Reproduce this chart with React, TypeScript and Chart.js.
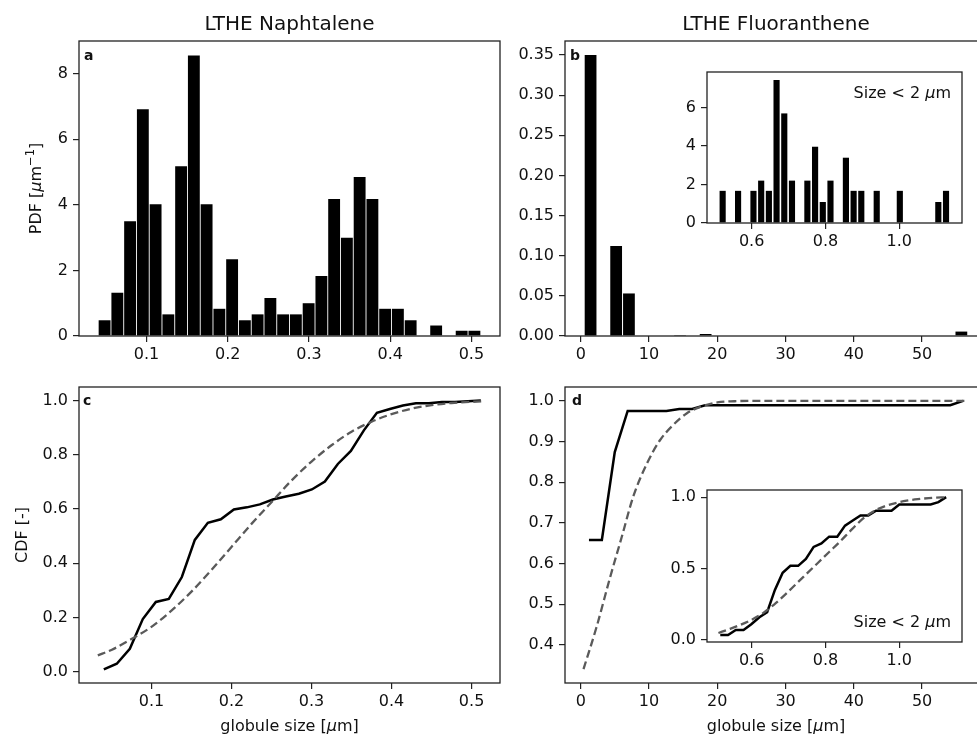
import React, { useEffect, useRef } from 'react';
import { Chart, registerables } from 'chart.js';

Chart.register(...registerables);

// ---------------- DATA ----------------
const TITLES = ['LTHE Naphtalene', 'LTHE Fluoranthene'];

// Panel a : histogram (PDF) naphtalene, bin centres [µm] and densities
const A_BIN_CENTERS = [0.0484, 0.0641, 0.0798, 0.0955, 0.1112, 0.1269, 0.1426, 0.1583, 0.1740, 0.1897, 0.2054, 0.2211, 0.2368, 0.2525, 0.2682, 0.2839, 0.2996, 0.3153, 0.3310, 0.3467, 0.3624, 0.3781, 0.3938, 0.4095, 0.4252, 0.4409, 0.4566, 0.4723, 0.4880, 0.5037];
const A_PDF = [0.48, 1.32, 3.5, 6.92, 4.02, 0.66, 5.18, 8.56, 4.02, 0.83, 2.34, 0.48, 0.66, 1.16, 0.66, 0.66, 1.0, 1.83, 4.18, 3.0, 4.85, 4.18, 0.83, 0.83, 0.48, 0, 0.32, 0, 0.16, 0.16];

// Panel b : histogram (PDF) fluoranthene
const B_BIN_CENTERS = [1.437, 3.310, 5.183, 7.056, 8.929, 10.802, 12.675, 14.548, 16.421, 18.294, 20.167, 22.040, 23.913, 25.786, 27.659, 29.532, 31.405, 33.278, 35.151, 37.024, 38.897, 40.770, 42.643, 44.516, 46.389, 48.262, 50.135, 52.008, 53.881, 55.754];
const B_PDF = [0.35, 0, 0.112, 0.053, 0, 0, 0, 0.0012, 0, 0.0025, 0, 0, 0, 0, 0, 0, 0, 0, 0, 0, 0, 0, 0, 0, 0, 0, 0, 0, 0, 0.0055];

// Panel b inset : size < 2 µm
const BI_BIN_CENTERS = [0.5214, 0.5423, 0.5632, 0.5841, 0.6049, 0.6258, 0.6467, 0.6675, 0.6884, 0.7093, 0.7302, 0.7510, 0.7719, 0.7928, 0.8136, 0.8345, 0.8554, 0.8763, 0.8971, 0.9180, 0.9389, 0.9597, 0.9806, 1.0015, 1.0224, 1.0432, 1.0641, 1.0850, 1.1058, 1.1267];
const BI_PDF = [1.67, 0, 1.67, 0, 1.67, 2.2, 1.67, 7.43, 5.69, 2.2, 0, 2.2, 3.96, 1.09, 2.2, 0, 3.39, 1.67, 1.67, 0, 1.67, 0, 0, 1.67, 0, 0, 0, 0, 1.09, 1.67];

// Panel c : CDF naphtalene (empirical, fitted)
const C_EMP_X = [0.0405, 0.0567, 0.0730, 0.0892, 0.1055, 0.1217, 0.1380, 0.1542, 0.1705, 0.1867, 0.2030, 0.2192, 0.2354, 0.2517, 0.2679, 0.2842, 0.3004, 0.3167, 0.3329, 0.3492, 0.3654, 0.3817, 0.3979, 0.4142, 0.4304, 0.4467, 0.4629, 0.4791, 0.4954, 0.5116];
const C_EMP_Y = [0.008, 0.029, 0.084, 0.194, 0.257, 0.268, 0.349, 0.486, 0.549, 0.562, 0.598, 0.606, 0.617, 0.635, 0.646, 0.656, 0.672, 0.701, 0.766, 0.814, 0.890, 0.955, 0.969, 0.982, 0.990, 0.990, 0.995, 0.995, 0.997, 1.0];
const C_FIT_X = [0.033, 0.05, 0.075, 0.1, 0.125, 0.15, 0.175, 0.2, 0.225, 0.25, 0.275, 0.3, 0.325, 0.35, 0.375, 0.4, 0.425, 0.45, 0.475, 0.512];
const C_FIT_Y = [0.06, 0.08, 0.12, 0.165, 0.225, 0.295, 0.375, 0.46, 0.545, 0.625, 0.705, 0.775, 0.835, 0.885, 0.922, 0.95, 0.97, 0.983, 0.991, 0.997];

// Panel d : CDF fluoranthene (empirical, fitted)
const D_EMP_X = [1.2, 3.09, 4.98, 6.87, 8.76, 10.65, 12.54, 14.43, 16.32, 18.21, 20.1, 21.99, 23.88, 25.77, 27.66, 29.55, 31.44, 33.33, 35.22, 37.11, 39.0, 40.89, 42.78, 44.67, 46.56, 48.45, 50.34, 52.23, 54.12, 56.01];
const D_EMP_Y = [0.658, 0.658, 0.874, 0.975, 0.975, 0.975, 0.975, 0.98, 0.98, 0.989, 0.989, 0.989, 0.989, 0.989, 0.989, 0.989, 0.989, 0.989, 0.989, 0.989, 0.989, 0.989, 0.989, 0.989, 0.989, 0.989, 0.989, 0.989, 0.989, 1.0];
const D_FIT_X = [0.4, 2.3, 4.3, 6.0, 7.7, 9.7, 11.6, 13.5, 15.5, 17.5, 20, 22.5, 25, 30, 40, 50, 56.7];
const D_FIT_Y = [0.34, 0.443, 0.566, 0.665, 0.765, 0.846, 0.903, 0.94, 0.969, 0.985, 0.996, 0.999, 1.0, 1.0, 1.0, 1.0, 1.0];

// Panel d inset : size < 2 µm
const DI_EMP_X = [0.515, 0.536, 0.557, 0.578, 0.599, 0.621, 0.642, 0.663, 0.684, 0.705, 0.726, 0.747, 0.768, 0.789, 0.810, 0.832, 0.853, 0.874, 0.895, 0.916, 0.937, 0.958, 0.979, 1.000, 1.021, 1.042, 1.064, 1.085, 1.106, 1.127];
const DI_EMP_Y = [0.033, 0.033, 0.068, 0.068, 0.108, 0.157, 0.193, 0.349, 0.47, 0.518, 0.518, 0.566, 0.651, 0.675, 0.723, 0.723, 0.800, 0.836, 0.872, 0.872, 0.905, 0.905, 0.905, 0.948, 0.948, 0.948, 0.948, 0.948, 0.965, 1.0];
const DI_FIT_X = [0.51, 0.54, 0.57, 0.6, 0.63, 0.66, 0.69, 0.72, 0.75, 0.78, 0.81, 0.84, 0.87, 0.9, 0.93, 0.96, 0.99, 1.02, 1.05, 1.08, 1.13];
const DI_FIT_Y = [0.047, 0.075, 0.105, 0.14, 0.185, 0.245, 0.315, 0.39, 0.465, 0.54, 0.615, 0.69, 0.77, 0.845, 0.9, 0.935, 0.958, 0.975, 0.986, 0.993, 1.0];

// Tick values
const TICKS_SMALL_X = [0.1, 0.2, 0.3, 0.4, 0.5];
const TICKS_LARGE_X = [0, 10, 20, 30, 40, 50];
const TICKS_INSET_X = [0.6, 0.8, 1.0];
const TICKS_A_Y = [0, 2, 4, 6, 8];
const TICKS_B_Y = [0, 0.05, 0.1, 0.15, 0.2, 0.25, 0.3, 0.35];
const TICKS_BI_Y = [0, 2, 4, 6];
const TICKS_C_Y = [0, 0.2, 0.4, 0.6, 0.8, 1.0];
const TICKS_D_Y = [0.4, 0.5, 0.6, 0.7, 0.8, 0.9, 1.0];
const TICKS_DI_Y = [0, 0.5, 1.0];

// ---------------- HELPERS ----------------
const FONT = '"DejaVu Sans", "Noto Sans", sans-serif';

type Run = { t: string; italic?: boolean; bold?: boolean; size?: number; dy?: number };
type TextItem = { runs: Run[]; x: number; y: number; size: number; align: 'left' | 'center' | 'right'; rotate?: boolean };

function drawRich(ctx: CanvasRenderingContext2D, item: TextItem, ox: number, oy: number) {
  ctx.save();
  ctx.translate(item.x - ox, item.y - oy);
  if (item.rotate) ctx.rotate(-Math.PI / 2);
  const fontOf = (r: Run) => `${r.italic ? 'italic ' : ''}${r.bold ? 'bold ' : ''}${r.size ?? item.size}px ${FONT}`;
  let total = 0;
  for (const r of item.runs) {
    ctx.font = fontOf(r);
    total += ctx.measureText(r.t).width;
  }
  let cx = item.align === 'left' ? 0 : item.align === 'center' ? -total / 2 : -total;
  ctx.textAlign = 'left';
  ctx.textBaseline = 'alphabetic';
  ctx.fillStyle = '#111';
  for (const r of item.runs) {
    ctx.font = fontOf(r);
    ctx.fillText(r.t, cx, r.dy ?? 0);
    cx += ctx.measureText(r.t).width;
  }
  ctx.restore();
}

type Axis = { min: number; max: number; ticks: number[]; dec: number };

function makeScale(ax: Axis, horizontal: boolean, size: number) {
  return {
    type: 'linear',
    position: horizontal ? 'bottom' : 'left',
    min: ax.min,
    max: ax.max,
    offset: false,
    grid: {
      display: true,
      drawOnChartArea: false,
      drawTicks: true,
      tickLength: 6,
      tickWidth: 1.2,
      tickColor: '#222',
      color: '#222',
      lineWidth: 1.2,
      offset: false,
    },
    border: { display: false },
    ticks: {
      autoSkip: false,
      maxRotation: 0,
      minRotation: 0,
      includeBounds: false,
      padding: horizontal ? 3 : 5,
      color: '#111',
      font: { family: FONT, size: 16 },
      callback: (v: any) => Number(v).toFixed(ax.dec),
    },
    afterBuildTicks: (s: any) => {
      s.ticks = ax.ticks.map((v) => ({ value: v }));
    },
    afterFit: (s: any) => {
      if (horizontal) s.height = size;
      else s.width = size;
    },
  };
}

type PanelSpec = {
  key: string;
  left: number;
  top: number;
  w: number;
  h: number;
  yw: number;
  pt: number;
  pr: number;
  xh: number;
  x: Axis;
  y: Axis;
  datasets: any[];
  texts: TextItem[];
  fill?: boolean;
};

function bars(xs: number[], ys: number[], pct: number) {
  return {
    type: 'bar',
    data: xs.map((x, i) => ({ x, y: ys[i] })),
    backgroundColor: '#000',
    borderWidth: 0,
    barPercentage: pct,
    categoryPercentage: 1,
  };
}

function solid(xs: number[], ys: number[]) {
  return {
    type: 'scatter',
    showLine: true,
    data: xs.map((x, i) => ({ x, y: ys[i] })),
    borderColor: '#000',
    borderWidth: 2.5,
    pointRadius: 0,
    tension: 0,
    order: 2,
  };
}

function dashed(xs: number[], ys: number[]) {
  return {
    type: 'scatter',
    showLine: true,
    data: xs.map((x, i) => ({ x, y: ys[i] })),
    borderColor: '#5a5a5a',
    borderWidth: 2.3,
    borderDash: [8, 4],
    pointRadius: 0,
    cubicInterpolationMode: 'monotone',
    order: 1,
  };
}

const MU_LABEL: Run[] = [{ t: 'globule size [' }, { t: 'μ', italic: true }, { t: 'm]' }];
const SIZE_LABEL: Run[] = [{ t: 'Size < 2 ' }, { t: 'μ', italic: true }, { t: 'm' }];

const PANELS: PanelSpec[] = [
  {
    key: 'a', left: 0, top: 0, w: 520, h: 370, yw: 79, pt: 41, pr: 20, xh: 34,
    x: { min: 0.0169, max: 0.5352, ticks: TICKS_SMALL_X, dec: 1 },
    y: { min: 0, max: 9.0, ticks: TICKS_A_Y, dec: 0 },
    datasets: [bars(A_BIN_CENTERS, A_PDF, 0.93)],
    texts: [
      { runs: [{ t: TITLES[0] }], x: 289.5, y: 30, size: 20, align: 'center' },
      { runs: [{ t: 'a', bold: true }], x: 84, y: 60, size: 14, align: 'left' },
      { runs: [{ t: 'PDF [' }, { t: 'μ', italic: true }, { t: 'm' }, { t: '−1', size: 11.5, dy: -6.5 }, { t: ']' }], x: 40.5, y: 188.5, size: 16, align: 'center', rotate: true },
    ],
  },
  {
    key: 'b', left: 500, top: 0, w: 497, h: 370, yw: 65, pt: 41, pr: 10, xh: 34,
    x: { min: -2.31, max: 59.51, ticks: TICKS_LARGE_X, dec: 0 },
    y: { min: 0, max: 0.3675, ticks: TICKS_B_Y, dec: 2 },
    datasets: [bars(B_BIN_CENTERS, B_PDF, 0.92)],
    texts: [
      { runs: [{ t: TITLES[1] }], x: 776, y: 30, size: 20, align: 'center' },
      { runs: [{ t: 'b', bold: true }], x: 570, y: 60, size: 14, align: 'left' },
    ],
  },
  {
    key: 'c', left: 0, top: 350, w: 520, h: 385, yw: 79, pt: 37, pr: 20, xh: 52,
    x: { min: 0.0095, max: 0.5355, ticks: TICKS_SMALL_X, dec: 1 },
    y: { min: -0.042, max: 1.05, ticks: TICKS_C_Y, dec: 1 },
    datasets: [dashed(C_FIT_X, C_FIT_Y), solid(C_EMP_X, C_EMP_Y)],
    texts: [
      { runs: [{ t: 'c', bold: true }], x: 83, y: 404.5, size: 14, align: 'left' },
      { runs: [{ t: 'CDF [-]' }], x: 26.7, y: 535, size: 16, align: 'center', rotate: true },
      { runs: MU_LABEL, x: 289.5, y: 731, size: 16, align: 'center' },
    ],
  },
  {
    key: 'd', left: 500, top: 350, w: 497, h: 385, yw: 65, pt: 37, pr: 10, xh: 52,
    x: { min: -2.31, max: 59.51, ticks: TICKS_LARGE_X, dec: 0 },
    y: { min: 0.306, max: 1.034, ticks: TICKS_D_Y, dec: 1 },
    datasets: [dashed(D_FIT_X, D_FIT_Y), solid(D_EMP_X, D_EMP_Y)],
    texts: [
      { runs: [{ t: 'd', bold: true }], x: 572, y: 405, size: 14, align: 'left' },
      { runs: MU_LABEL, x: 776, y: 731, size: 16, align: 'center' },
    ],
  },
  {
    key: 'bi', left: 640, top: 55, w: 332, h: 200, yw: 67, pt: 17, pr: 10, xh: 32, fill: true,
    x: { min: 0.479, max: 1.17, ticks: TICKS_INSET_X, dec: 1 },
    y: { min: 0, max: 7.84, ticks: TICKS_BI_Y, dec: 0 },
    datasets: [bars(BI_BIN_CENTERS, BI_PDF, 0.8)],
    texts: [{ runs: SIZE_LABEL, x: 951, y: 98, size: 16, align: 'right' }],
  },
  {
    key: 'di', left: 640, top: 473, w: 332, h: 200, yw: 67, pt: 17, pr: 10, xh: 31, fill: true,
    x: { min: 0.479, max: 1.17, ticks: TICKS_INSET_X, dec: 1 },
    y: { min: -0.016, max: 1.05, ticks: TICKS_DI_Y, dec: 1 },
    datasets: [dashed(DI_FIT_X, DI_FIT_Y), solid(DI_EMP_X, DI_EMP_Y)],
    texts: [{ runs: SIZE_LABEL, x: 951, y: 627, size: 16, align: 'right' }],
  },
];

function makeDecor(spec: PanelSpec) {
  return {
    id: 'decor_' + spec.key,
    beforeDraw(chart: any) {
      if (!spec.fill) return;
      const { left, top, width, height } = chart.chartArea;
      const ctx = chart.ctx;
      ctx.save();
      ctx.fillStyle = '#fff';
      ctx.fillRect(left, top, width, height);
      ctx.restore();
    },
    afterDatasetsDraw(chart: any) {
      const { left, top, width, height } = chart.chartArea;
      const ctx = chart.ctx;
      ctx.save();
      ctx.strokeStyle = '#222';
      ctx.lineWidth = 1.3;
      ctx.strokeRect(left, top, width, height);
      ctx.restore();
    },
    afterDraw(chart: any) {
      const ctx = chart.ctx;
      for (const t of spec.texts) drawRich(ctx, t, spec.left, spec.top);
    },
  };
}

function Panel({ spec }: { spec: PanelSpec }) {
  const ref = useRef<HTMLCanvasElement>(null);
  useEffect(() => {
    const canvas = ref.current;
    if (!canvas) return;
    const isBar = spec.datasets[0].type === 'bar';
    const chart = new Chart(canvas, {
      type: isBar ? 'bar' : 'scatter',
      data: { datasets: spec.datasets },
      options: {
        responsive: false,
        maintainAspectRatio: false,
        animation: false,
        devicePixelRatio: 1,
        events: [],
        layout: { padding: { left: 0, top: spec.pt, right: spec.pr, bottom: 0 } },
        plugins: { legend: { display: false }, tooltip: { enabled: false }, title: { display: false } },
        scales: {
          x: makeScale(spec.x, true, spec.xh),
          y: makeScale(spec.y, false, spec.yw),
        },
      } as any,
      plugins: [makeDecor(spec)],
    } as any);
    return () => chart.destroy();
  }, [spec]);
  return (
    <canvas
      ref={ref}
      width={spec.w}
      height={spec.h}
      style={{ position: 'absolute', left: spec.left, top: spec.top, width: spec.w, height: spec.h }}
    />
  );
}

export default function App() {
  return (
    <div
      style={{
        position: 'fixed',
        left: 0,
        top: 0,
        width: 977,
        height: 735,
        overflow: 'hidden',
        background: '#fff',
      }}
    >
      {PANELS.map((p) => (
        <Panel key={p.key} spec={p} />
      ))}
    </div>
  );
}
